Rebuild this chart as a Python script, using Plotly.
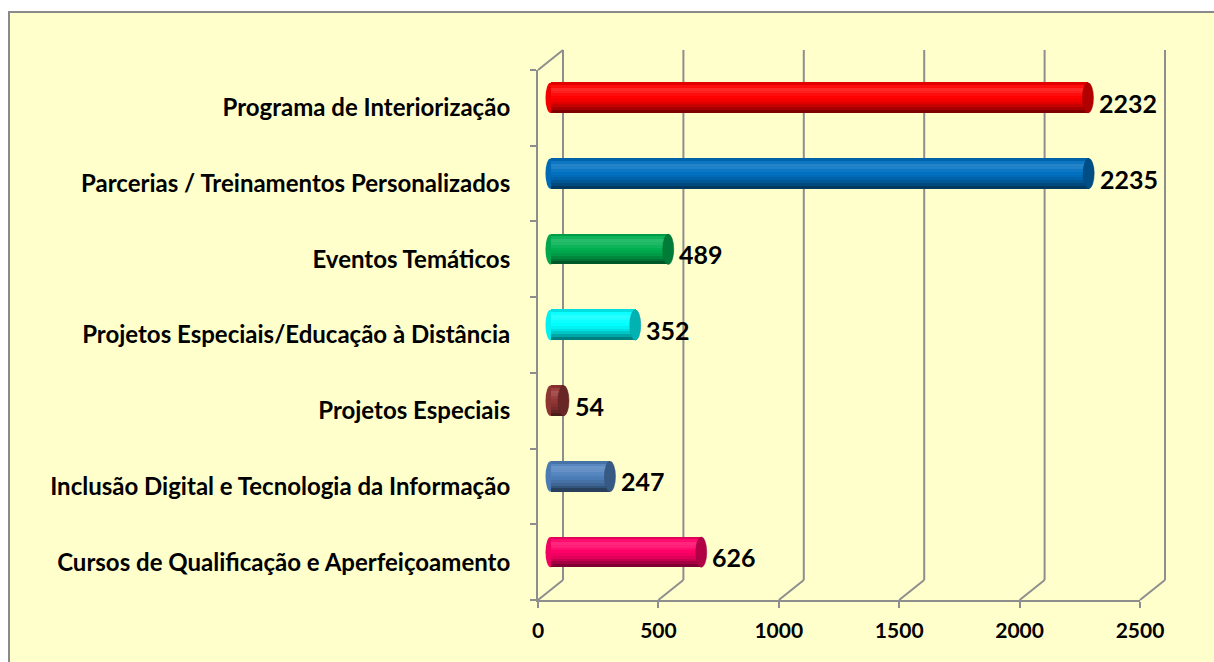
import plotly.graph_objects as go

# ---- data ----
categories = [
    "Cursos de Qualificação e Aperfeiçoamento",
    "Inclusão Digital e Tecnologia da Informação",
    "Projetos Especiais",
    "Projetos Especiais/Educação à Distância",
    "Eventos Temáticos",
    "Parcerias / Treinamentos Personalizados",
    "Programa de Interiorização",
]
values = [626, 247, 54, 352, 489, 2235, 2232]
bar_colors = ["#FF0066", "#4F81BD", "#953735", "#00FFFF", "#00B050", "#0070C0", "#FF0000"]
x_ticks = [0, 500, 1000, 1500, 2000, 2500]

# ---- geometry (page pixels) ----
W, H = 1214, 662
OFF = 0
FX0, FX1 = 538, 1140      # front plane x extent
FYT, FYB = 70, 600        # front plane y extent
DX, DY = 25, 20           # depth offset to back wall
XMAX = 2500
GRID = "#8E8E8E"
FONT = "Lato"


def px(x):
    return (x - OFF) / W


def py(y):
    return 1 - (y - OFF) / H


def shade(hexc, f):
    h = hexc.lstrip("#")
    r, g, b = int(h[0:2], 16), int(h[2:4], 16), int(h[4:6], 16)
    if f >= 0:
        r, g, b = [c + (255 - c) * f for c in (r, g, b)]
    else:
        r, g, b = [c * (1 + f) for c in (r, g, b)]
    return "#%02x%02x%02x" % (int(round(r)), int(round(g)), int(round(b)))


fig = go.Figure()

# invisible trace so the front-plane axes are drawn
fig.add_trace(go.Scatter(x=values, y=categories, mode="markers",
                         marker=dict(opacity=0), hoverinfo="skip", showlegend=False))

# cylinder bands (top -> bottom profile)
BAR_W = 0.40
profile = [-0.12, 0.05, 0.15, 0.12, 0.05, 0.0, -0.05, -0.12, -0.22, -0.35, -0.5]
n = len(profile)
band = BAR_W / n
for k, f in enumerate(profile):
    off = BAR_W / 2 - (k + 1) * band
    fig.add_trace(go.Bar(
        x=values, y=categories, orientation="h",
        width=band * 1.15, offset=off,
        marker=dict(color=[shade(c, f) for c in bar_colors], line=dict(width=0)),
        xaxis="x2", yaxis="y2", hoverinfo="skip", showlegend=False,
    ))

shapes = []
# background frame
shapes.append(dict(type="rect", xref="paper", yref="paper",
                   x0=px(9), x1=px(W + 20), y0=py(12), y1=py(H + 20),
                   fillcolor="#FFFFCC", line=dict(color="#8A8A8A", width=2), layer="below"))

scale = (FX1 - FX0) / XMAX
for v in x_ticks:
    xf = FX0 + v * scale
    shapes.append(dict(type="line", xref="paper", yref="paper",
                       x0=px(xf + DX), x1=px(xf + DX), y0=py(FYT - DY), y1=py(FYB - DY),
                       line=dict(color=GRID, width=2), layer="below"))
    shapes.append(dict(type="line", xref="paper", yref="paper",
                       x0=px(xf), x1=px(xf + DX), y0=py(FYB), y1=py(FYB - DY),
                       line=dict(color=GRID, width=2), layer="below"))
shapes.append(dict(type="line", xref="paper", yref="paper",
                   x0=px(FX0), x1=px(FX0 + DX), y0=py(FYT), y1=py(FYT - DY),
                   line=dict(color=GRID, width=2), layer="below"))

# cylinder ends
for i, (cat, v, c) in enumerate(zip(categories, values, bar_colors)):
    shapes.append(dict(type="circle", xref="x2", yref="y2", xsizemode="pixel",
                       xanchor=0, x0=-5, x1=5, y0=i - BAR_W / 2, y1=i + BAR_W / 2,
                       fillcolor=shade(c, -0.05), line=dict(width=0), layer="below"))
    shapes.append(dict(type="circle", xref="x2", yref="y2", xsizemode="pixel",
                       xanchor=v, x0=-5.5, x1=5.5, y0=i - BAR_W / 2, y1=i + BAR_W / 2,
                       fillcolor=shade(c, -0.3), line=dict(width=0.5, color=shade(c, -0.4)),
                       layer="above"))

annotations = []
for i, (cat, v) in enumerate(zip(categories, values)):
    annotations.append(dict(xref="x2", yref="y2", x=v, y=i, text=str(v),
                            xanchor="left", yanchor="middle", xshift=9, yshift=-5,
                            showarrow=False,
                            font=dict(family=FONT, size=25, color="black", weight="bold")))

PAD = 12  # extra pixels on the left of bar subplot so the rounded ends are not clipped
fig.update_layout(
    width=W, height=H, autosize=False,
    margin=dict(l=0, r=0, t=0, b=0, pad=0),
    paper_bgcolor="white", plot_bgcolor="rgba(0,0,0,0)",
    barmode="overlay", bargap=0,
    showlegend=False,
    shapes=shapes, annotations=annotations,
    xaxis=dict(domain=[px(FX0), px(FX1)], range=[0, XMAX], anchor="y", automargin=False,
               tickvals=x_ticks, ticks="outside", ticklen=6, tickwidth=2, tickcolor=GRID,
               showline=True, linecolor=GRID, linewidth=2, showgrid=False, zeroline=False,
               ticklabelstandoff=5,
               tickfont=dict(family=FONT, size=21, color="black", weight="bold")),
    yaxis=dict(domain=[py(FYB), py(FYT)], range=[-0.5, 6.5], anchor="x", automargin=False,
               type="category", categoryorder="array", categoryarray=categories,
               tickson="boundaries", ticks="outside", ticklen=6, tickwidth=2, tickcolor=GRID,
               showline=True, linecolor=GRID, linewidth=2, showgrid=False, zeroline=False,
               ticklabelstandoff=21,
               tickfont=dict(family=FONT, size=24, color="black", weight="bold")),
    xaxis2=dict(domain=[px(FX0 + DX / 2 - PAD), px(FX1 + DX / 2)], automargin=False,
                range=[-PAD / scale, XMAX], anchor="y2",
                visible=False, showgrid=False, zeroline=False),
    yaxis2=dict(domain=[py(FYB - DY / 2), py(FYT - DY / 2)], range=[-0.5, 6.5], anchor="x2",
                type="category", categoryorder="array", categoryarray=categories,
                automargin=False, visible=False, showgrid=False, zeroline=False),
)

fig.write_html(
    "out.html",
    config={"displayModeBar": False},
    post_script="document.body.style.margin='0';document.body.style.overflow='hidden';",
)
